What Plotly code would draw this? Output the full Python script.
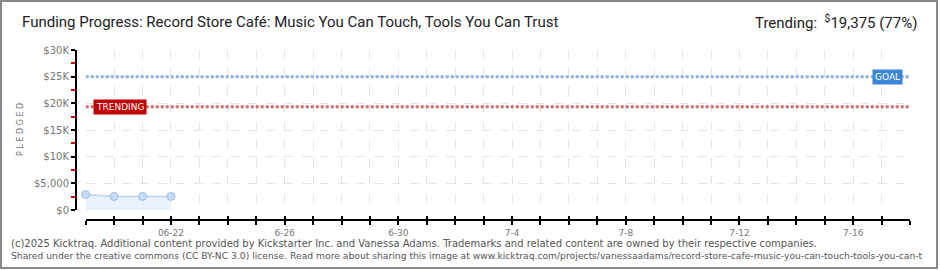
import plotly.graph_objects as go

dates = ["2025-06-19", "2025-06-20", "2025-06-21", "2025-06-22"]
pledged = [2900, 2550, 2550, 2550]
goal = 25000
trending = 19375
x_start = "2025-06-19"
x_end = "2025-07-18"
tick_days = ["2025-06-%02d" % d for d in range(19, 31)] + ["2025-07-%02d" % d for d in range(1, 19)]
label_days = ["2025-06-22", "2025-06-26", "2025-06-30", "2025-07-04", "2025-07-08", "2025-07-12", "2025-07-16"]
label_text = ["06-22", "6-26", "6-30", "7-4", "7-8", "7-12", "7-16"]
y_vals = [0, 5000, 10000, 15000, 20000, 25000, 30000]
y_text = ["$0", "$5,000", "$10K", "$15K", "$20K", "$25K", "$30K"]
y_minor = [2500, 7500, 12500, 17500, 22500, 27500]

W, H = 940, 270
ML, MR, MT, MB = 76, 30, 50, 50
PW, PH = W - ML - MR, H - MT - MB


def px(x):
    return (x - ML) / PW


def py(y):
    return (H - MB - y) / PH


fig = go.Figure()

fig.add_trace(go.Scatter(x=dates, y=pledged, mode="lines+markers", fill="tozeroy",
                         fillcolor="rgba(220,235,252,0.6)", cliponaxis=False,
                         line=dict(color="#b9d3ef", width=1.5),
                         marker=dict(size=8, color="#c5dcf6", line=dict(color="#9dbde2", width=1)),
                         hoverinfo="skip", showlegend=False))
fig.add_trace(go.Scatter(x=[x_start, x_end], y=[goal, goal], mode="lines",
                         line=dict(color="#8fb1dd", width=3, dash="3px,2px"),
                         hoverinfo="skip", showlegend=False))
fig.add_trace(go.Scatter(x=[x_start, x_end], y=[trending, trending], mode="lines",
                         line=dict(color="#d26b6b", width=3, dash="3px,2px"),
                         hoverinfo="skip", showlegend=False))
# dummy trace for the inside-tick axis
fig.add_trace(go.Scatter(x=[x_start, x_end], y=[None, None], xaxis="x2", showlegend=False, hoverinfo="skip"))

x_dom0 = px(85.7)
y_dom0 = py(210)

axis_font = dict(family="DejaVu Sans", size=9, color="#777777")

fig.update_layout(
    width=W, height=H,
    margin=dict(l=ML, r=MR, t=MT, b=MB),
    paper_bgcolor="white", plot_bgcolor="white",
    xaxis=dict(type="date", domain=[x_dom0, 1], range=[x_start, x_end], anchor="free", position=0,
               tickvals=label_days, ticktext=label_text,
               ticks="outside", ticklen=4, tickcolor="black", tickwidth=1.5,
               minor=dict(tickvals=tick_days, ticks="outside", ticklen=4, tickcolor="black", tickwidth=1.5,
                          showgrid=True, gridcolor="#e4e4e4", griddash="dash", gridwidth=1),
               showline=True, linecolor="black", linewidth=2,
               showgrid=True, gridcolor="#e4e4e4", griddash="dash", gridwidth=1,
               zeroline=False, tickfont=axis_font, tickangle=0),
    xaxis2=dict(type="date", domain=[x_dom0, 1], range=[x_start, x_end], anchor="free", position=0,
                overlaying="x", tickvals=tick_days, showticklabels=False,
                ticks="inside", ticklen=4, tickcolor="black", tickwidth=1.5,
                showline=False, showgrid=False, zeroline=False),
    yaxis=dict(domain=[y_dom0, 1], range=[0, 30000], anchor="free", position=0,
               tickvals=y_vals, ticktext=y_text,
               ticks="outside", ticklen=4, tickcolor="black", tickwidth=1.5,
               minor=dict(ticks="outside", ticklen=4, tickcolor="#dd0000", tickvals=y_minor, showgrid=False),
               showline=True, linecolor="black", linewidth=2,
               showgrid=True, gridcolor="#e4e4e4", griddash="dash", gridwidth=1,
               zeroline=False, tickfont=dict(family="DejaVu Sans", size=10, color="#777777")),
    showlegend=False,
)

annotations = [
    dict(x=px(20), y=py(22), xref="paper", yref="paper", xanchor="left", yanchor="middle",
         text="Funding Progress: Record Store Café: Music You Can Touch, Tools You Can Trust",
         showarrow=False, font=dict(family="Roboto", size=15, color="#222222")),
    dict(x=px(919), y=py(22), xref="paper", yref="paper", xanchor="right", yanchor="middle",
         text="Trending:  <sup>$</sup>19,375 (77%)",
         showarrow=False, font=dict(family="Roboto", size=15, color="#222222")),
    dict(x=px(20), y=py(130), xref="paper", yref="paper", xanchor="center", yanchor="middle",
         text="P L E D G E D", textangle=-90, showarrow=False,
         font=dict(family="DejaVu Sans", size=8, color="#777777")),
    dict(x=px(120), y=trending, xref="paper", yref="y", xanchor="center", yanchor="middle",
         text="TRENDING", showarrow=False, bgcolor="#c00000", borderpad=2,
         font=dict(family="DejaVu Sans", size=9, color="white")),
    dict(x=px(887), y=goal, xref="paper", yref="y", xanchor="center", yanchor="middle",
         text="GOAL", showarrow=False, bgcolor="#3b86d6", borderpad=2,
         font=dict(family="DejaVu Sans", size=9, color="white")),
    dict(x=px(9), y=py(243), xref="paper", yref="paper", xanchor="left", yanchor="middle",
         text="(c)2025 Kicktraq. Additional content provided by Kickstarter Inc. and Vanessa Adams. Trademarks and related content are owned by their respective companies.",
         showarrow=False, font=dict(family="DejaVu Sans", size=10, color="#555555")),
    dict(x=px(9), y=py(256), xref="paper", yref="paper", xanchor="left", yanchor="middle",
         text="Shared under the creative commons (CC BY-NC 3.0) license. Read more about sharing this image at www.kicktraq.com/projects/vanessaadams/record-store-cafe-music-you-can-touch-tools-you-can-t",
         showarrow=False, font=dict(family="DejaVu Sans", size=9.2, color="#555555")),
]
fig.update_layout(annotations=annotations)

fig.add_shape(type="rect", xref="paper", yref="paper",
              x0=px(1), x1=px(937), y0=py(268), y1=py(1),
              line=dict(color="#888888", width=2), fillcolor="rgba(0,0,0,0)", layer="below")

fig.write_html("out.html")
